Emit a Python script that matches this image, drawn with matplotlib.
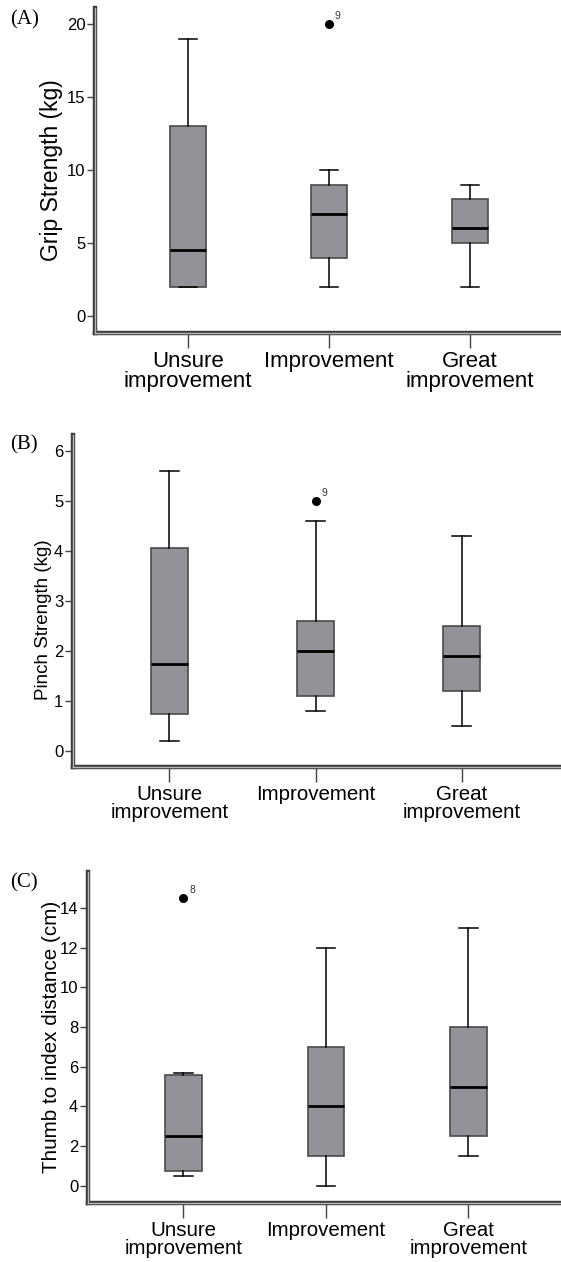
import matplotlib
matplotlib.use('Agg')
import matplotlib.pyplot as plt
from matplotlib.lines import Line2D

plt.rcParams['font.family'] = ['Liberation Sans', 'DejaVu Sans']

groups = ['Unsure\nimprovement', 'Improvement', 'Great\nimprovement']

# box stats per group: whislo, q1, med, q3, whishi
grip_stats = [(2, 2, 4.5, 13, 19), (2, 4, 7, 9, 10), (2, 5, 6, 8, 9)]
grip_outliers = [[], [20], []]
grip_outlier_ids = [[], ['9'], []]

pinch_stats = [(0.2, 0.75, 1.75, 4.05, 5.6), (0.8, 1.1, 2.0, 2.6, 4.6), (0.5, 1.2, 1.9, 2.5, 4.3)]
pinch_outliers = [[], [5.0], []]
pinch_outlier_ids = [[], ['9'], []]

thumb_stats = [(0.5, 0.75, 2.5, 5.6, 5.7), (0, 1.5, 4, 7, 12), (1.5, 2.5, 5, 8, 13)]
thumb_outliers = [[14.5], [], []]
thumb_outlier_ids = [['8'], [], []]

W, H = 561, 1262
fig = plt.figure(figsize=(W / 100, H / 100), dpi=100)


def panel(rect, stats, outliers, ids, ylim, yticks, ylabel, xlim, tag,
          xfs, yfs, ylab_x, ylab_y):
    left, top, right, bottom = rect
    ax = fig.add_axes([left / W, 1 - bottom / H, (right - left) / W, (bottom - top) / H])
    bxp_stats = []
    for (lo, q1, med, q3, hi), fl in zip(stats, outliers):
        bxp_stats.append({'whislo': lo, 'q1': q1, 'med': med, 'q3': q3, 'whishi': hi, 'fliers': fl})
    ax.bxp(bxp_stats, positions=[1, 2, 3], widths=0.255, patch_artist=True,
           capwidths=0.13,
           boxprops=dict(facecolor='#929399', edgecolor='#4a4a4a', linewidth=1.2),
           medianprops=dict(color='black', linewidth=2),
           whiskerprops=dict(color='black', linewidth=1.1),
           capprops=dict(color='black', linewidth=1.1),
           flierprops=dict(marker='o', markerfacecolor='black', markeredgecolor='black', markersize=5.5))
    yr = ylim[1] - ylim[0]
    for i, (fl, lab) in enumerate(zip(outliers, ids)):
        for v, t in zip(fl, lab):
            ax.text(i + 1 + 0.04, v + yr * 0.008, t, fontsize=7.5, color='#333333',
                    ha='left', va='bottom')
    ax.set_xlim(*xlim)
    ax.set_ylim(*ylim)
    ax.set_yticks(yticks)
    ax.set_xticks([1, 2, 3])
    ax.set_xticklabels(groups, fontsize=xfs, linespacing=0.92)
    ax.tick_params(axis='y', labelsize=12, length=6, width=1, color='#444444', pad=1)
    ax.tick_params(axis='x', length=11, width=1, color='#444444', pad=2)
    ax.set_ylabel(ylabel, fontsize=yfs)
    ax.yaxis.set_label_coords((ylab_x - left) / (right - left), ylab_y)
    ax.yaxis.label.set_verticalalignment('center')
    for s in ['top', 'right']:
        ax.spines[s].set_visible(False)
    for s in ['left', 'bottom']:
        ax.spines[s].set_linewidth(3.2)
        ax.spines[s].set_color('#3c3c3c')
    # light inner line to give the double-rule spine
    ax.add_line(Line2D([0, 0], [0, 1], transform=ax.transAxes, color='#b8b8b8',
                       linewidth=1.0, clip_on=False, zorder=5))
    ax.add_line(Line2D([0, 1], [0, 0], transform=ax.transAxes, color='#b8b8b8',
                       linewidth=1.0, clip_on=False, zorder=5))
    fig.text(10 / W, 1 - tag[1] / H, tag[0], fontsize=15, family='Liberation Serif',
             ha='left', va='center')
    return ax


panel((95, 8, 561, 333), grip_stats, grip_outliers, grip_outlier_ids,
      (-1.16, 21.1), [0, 5, 10, 15, 20], 'Grip Strength (kg)', (0.34, 3.645), ('(A)', 20),
      16, 16.5, 52, 0.5)
panel((73, 435, 561, 767), pinch_stats, pinch_outliers, pinch_outlier_ids,
      (-0.31, 6.31), [0, 1, 2, 3, 4, 5, 6], 'Pinch Strength (kg)', (0.34, 3.68), ('(B)', 445),
      14.8, 13.5, 44, 0.443)
panel((88, 872, 561, 1203), thumb_stats, thumb_outliers, thumb_outlier_ids,
      (-0.87, 15.81), [0, 2, 4, 6, 8, 10, 12, 14], 'Thumb to index distance (cm)', (0.331, 3.65), ('(C)', 883),
      14.7, 14.9, 52, 0.502)

fig.savefig('out.png', dpi=100)
